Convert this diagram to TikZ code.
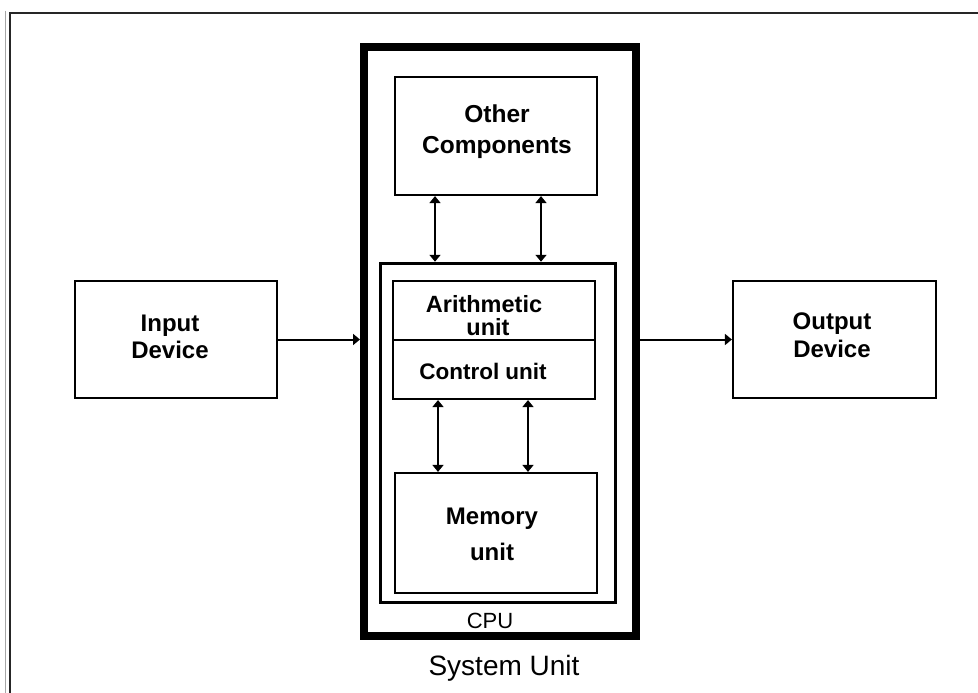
\documentclass[tikz,border=0pt]{standalone}
\usepackage{fontspec}
\setmainfont{Liberation Sans}
\usetikzlibrary{arrows.meta}
\tikzset{
  x=1pt, y=-1pt,
  box/.style={draw=black, line width=2.2pt, rectangle, inner sep=0pt, fill=white},
  lbl/.style={anchor=base, align=center, inner sep=0pt, font=\bfseries\fontsize{22}{27}\selectfont},
  arr/.style={line width=2pt, -{Triangle[width=11pt,length=7pt]}},
  darr/.style={line width=2pt, {Triangle[width=11pt,length=7pt]}-{Triangle[width=11pt,length=7pt]}}
}
\begin{document}
\begin{tikzpicture}
\useasboundingbox (0,0) rectangle (978,693);
\fill[white] (0,0) rectangle (978,693);
% frame
\draw[gray!70, line width=1pt] (5,11) -- (5,693);
\draw[black!85, line width=1.8pt] (10,693) -- (10,13) -- (978,13);

% system unit and cpu
\node[box, line width=8pt, minimum width=272pt, minimum height=589pt] (sys) at (500,341.5) {};
\node[box, line width=3.5pt, minimum width=235pt, minimum height=339pt] (cpu) at (498,433) {};

% boxes
\node[box, minimum width=202pt, minimum height=118pt] (oc) at (496,136) {};
\node[box, minimum width=202pt, minimum height=59pt] (ar) at (494,310.5) {};
\node[box, minimum width=202pt, minimum height=59pt] (cu) at (494,369.5) {};
\node[box, minimum width=202pt, minimum height=120pt] (mem) at (496,533) {};
\node[box, minimum width=202pt, minimum height=117pt] (in) at (176,339.5) {};
\node[box, minimum width=203pt, minimum height=117pt] (out) at (834.5,339.5) {};

% labels (base anchor = baseline of last line)
\node[lbl, font=\bfseries\fontsize{24.5}{31}\selectfont] (oct) at (497,153) {Other\\Components};
\node[lbl, font=\bfseries\fontsize{23.5}{23}\selectfont] (art) at (484,335) {Arithmetic\\\hspace*{8pt}unit};
\node[lbl, font=\bfseries\fontsize{22.5}{23}\selectfont] (cut) at (483,379) {Control unit};
\node[lbl, font=\bfseries\fontsize{24}{36}\selectfont] (memt) at (492,560) {Memory\\unit};
\node[lbl, font=\bfseries\fontsize{24}{27}\selectfont] (int) at (170,358) {Input\\Device};
\node[lbl, font=\bfseries\fontsize{24}{28}\selectfont] (outt) at (832,357) {Output\\Device};
\node[lbl, font=\fontsize{22}{24}\selectfont] (cput) at (490,628) {CPU};
\node[lbl, font=\fontsize{28}{30}\selectfont] (syst) at (504,675) {System Unit};

% connector x positions
\coordinate (a1) at (435,0);
\coordinate (a2) at (541,0);
\coordinate (b1) at (438,0);
\coordinate (b2) at (528,0);

% connectors
\draw[arr] (in.east) -- (in.east -| sys.west);
\draw[arr] (sys.east |- out.west) -- (out.west);
\draw[darr] (oc.south -| a1) -- (cpu.north -| a1);
\draw[darr] (oc.south -| a2) -- (cpu.north -| a2);
\draw[darr] (cu.south -| b1) -- (mem.north -| b1);
\draw[darr] (cu.south -| b2) -- (mem.north -| b2);
\end{tikzpicture}
\end{document}
